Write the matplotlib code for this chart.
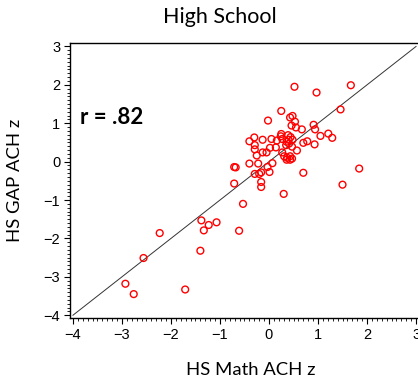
import numpy as np
import matplotlib.pyplot as plt
from matplotlib.ticker import MultipleLocator

# standardized achievement scores per school
math_z = [0.52, 0.97, 1.67, 1.46, 0.25, -0.02, 0.43, 0.48, 0.53, 0.46,
          0.55, 0.67, 0.91, 0.94, 1.21, 1.29, 1.05, 0.78, 0.70, 0.93,
          0.57, 0.25, 0.24, 0.27, 0.39, 0.44, 0.48, 0.40, 0.36, 0.35,
          0.41, 0.47, 0.05, 0.16, -0.40, -0.30, -0.13, -0.29, -0.29, -0.13,
          -0.05, 0.02, 0.14, -0.25, 0.27, 0.31, 0.37, 0.43, 0.47, 0.43,
          0.36, -0.40, -0.22, 0.07, -0.03, 0.01, -0.29, -0.20, -0.16, 0.70,
          -0.71, -0.68, -0.71, -0.53, -0.61, 0.30, 1.50, 1.84, -0.16, -0.16,
          -1.38, -1.33, -1.23, -1.07, -2.23, -2.56, -1.40, -2.93, -2.76, -1.71]
gap_z = [1.95, 1.80, 1.99, 1.36, 1.32, 1.07, 1.15, 1.19, 1.04, 0.94,
         0.89, 0.84, 0.96, 0.84, 0.73, 0.62, 0.67, 0.53, 0.49, 0.45,
         0.29, 0.72, 0.66, 0.59, 0.69, 0.64, 0.57, 0.57, 0.52, 0.43,
         0.47, 0.39, 0.59, 0.55, 0.53, 0.63, 0.57, 0.43, 0.32, 0.24,
         0.24, 0.36, 0.37, 0.16, 0.24, 0.14, 0.10, 0.14, 0.08, 0.05,
         0.05, -0.05, -0.05, -0.04, -0.14, -0.27, -0.32, -0.32, -0.28, -0.29,
         -0.14, -0.15, -0.57, -1.10, -1.80, -0.84, -0.60, -0.18, -0.53, -0.66,
         -1.53, -1.79, -1.65, -1.58, -1.86, -2.51, -2.32, -3.18, -3.45, -3.33]
ref_line = [-4, 3]
r_value = ".82"

fig = plt.figure(figsize=(4.18, 3.80), dpi=100)
ax = fig.add_axes([70 / 418, 1 - 318.3 / 380, 348 / 418, 275.3 / 380])

ax.plot(ref_line, ref_line, color="#333333", lw=0.7, zorder=1)
ax.scatter(math_z, gap_z, s=24, facecolors="none", edgecolors="#ff0000",
           linewidths=1.0, zorder=2)

ax.set_xlim(-4.06, 3.04)
ax.set_ylim(-4.08, 3.09)
ax.xaxis.set_major_locator(MultipleLocator(1))
ax.yaxis.set_major_locator(MultipleLocator(1))
ax.xaxis.set_minor_locator(MultipleLocator(0.1))
ax.yaxis.set_minor_locator(MultipleLocator(0.1))
ax.tick_params(which="major", length=4, width=0.8, labelsize=10.5, pad=3)
ax.tick_params(which="minor", length=2, width=0.6)
for lbl in ax.get_xticklabels() + ax.get_yticklabels():
    lbl.set_family("Liberation Sans")
ax.spines["right"].set_visible(False)
for s in ("left", "top", "bottom"):
    ax.spines[s].set_linewidth(1.0)

ax.text(0.03, 0.73, f"r = {r_value}", transform=ax.transAxes,
        fontsize=16, fontweight="bold", family="Lato", va="center")

fig.text(220 / 418, 1 - 17 / 380, "High School", ha="center", va="center",
         fontsize=15.5, family="Lato")
fig.text(251 / 418, 1 - 370 / 380, "HS Math ACH z", ha="center",
         va="center", fontsize=13.3, family="Lato")
fig.text(15 / 418, 1 - 180 / 380, "HS GAP ACH z", ha="center",
         va="center", rotation=90, fontsize=13.3, family="Lato")

fig.savefig("out.png", dpi=100)
